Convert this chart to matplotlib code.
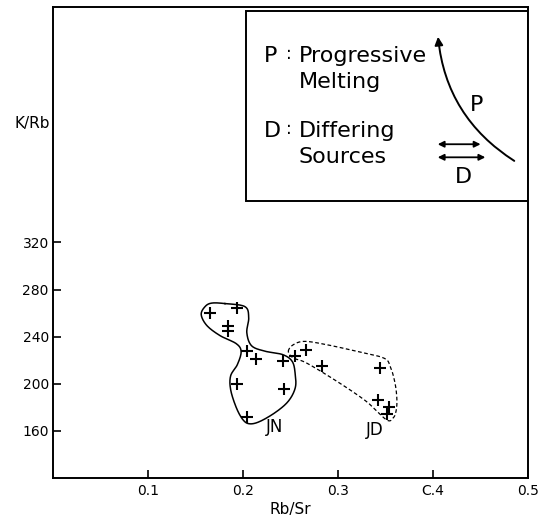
import numpy as np
import matplotlib
matplotlib.use("Agg")
import matplotlib.pyplot as plt
from matplotlib.patches import Rectangle

# samples (Rb/Sr, K/Rb)
jn_x = [0.165, 0.194, 0.1845, 0.1845, 0.204, 0.214, 0.2424, 0.194, 0.243, 0.204]
jn_y = [260, 264, 249, 244.5, 228, 221, 219.6, 199.7, 195.5, 172.2]
jd_x = [0.2547, 0.266, 0.283, 0.344, 0.342, 0.354, 0.352]
jd_y = [223.2, 229, 214.7, 213.4, 186.4, 180.2, 174.5]

# hand-drawn group outlines
jn_outline_x = [0.181, 0.202, 0.206, 0.204, 0.209, 0.223, 0.242, 0.252, 0.255, 0.255,
                0.248, 0.235, 0.218, 0.207, 0.200, 0.193, 0.187, 0.187, 0.194, 0.198,
                0.193, 0.176, 0.162, 0.156, 0.160, 0.167]
jn_outline_y = [268.1, 265.5, 256.2, 243.4, 232.3, 227.7, 224.7, 218.7, 207.7, 196.6,
                185.5, 176.2, 168.1, 166, 169.4, 179.6, 194.9, 206.8, 216.2, 227.2,
                234, 240.8, 249.4, 258.7, 265.5, 268.5]
jd_outline_x = [0.2477, 0.253, 0.265, 0.288, 0.320, 0.348, 0.355, 0.360, 0.362, 0.361,
                0.358, 0.351, 0.330, 0.299, 0.267, 0.253]
jd_outline_y = [227.5, 233.2, 236, 233.2, 227.5, 221.9, 214.7, 200.6, 186.4, 176.4,
                171, 169.4, 184.9, 202, 217.6, 221.9]

x_ticks = [0.1, 0.2, 0.3, 0.4, 0.5]
x_ticklabels = ["0.1", "0.2", "0.3", "C.4", "0.5"]
y_ticks = [160, 200, 240, 280, 320]


def smooth_closed(xs, ys, n=20):
    # closed Catmull-Rom through the outline vertices
    p = np.column_stack([xs, ys])
    m = len(p)
    out = []
    t = np.linspace(0, 1, n, endpoint=False)[:, None]
    for i in range(m):
        p0, p1, p2, p3 = p[i - 1], p[i], p[(i + 1) % m], p[(i + 2) % m]
        seg = 0.5 * ((2 * p1) + (-p0 + p2) * t + (2 * p0 - 5 * p1 + 4 * p2 - p3) * t ** 2
                     + (-p0 + 3 * p1 - 3 * p2 + p3) * t ** 3)
        out.append(seg)
    out = np.vstack(out + [p[:1]])
    return out[:, 0], out[:, 1]


fig = plt.figure(figsize=(5.41, 5.24), dpi=100)
ax = fig.add_axes([0.098, 0.0878, 0.878, 0.899])
ax.set_xlim(0, 0.5)
ax.set_ylim(120, 520)

for s in ax.spines.values():
    s.set_linewidth(1.4)

ax.set_xticks(x_ticks)
ax.set_xticklabels(x_ticklabels, fontsize=10)
ax.set_yticks(y_ticks)
ax.set_yticklabels([str(v) for v in y_ticks], fontsize=10)
ax.tick_params(direction="in", length=6, width=1.2, pad=4)
ax.tick_params(axis="y", pad=3)

# outlines
sx, sy = smooth_closed(jn_outline_x, jn_outline_y)
ax.plot(sx, sy, color="black", lw=1.1)
sx, sy = smooth_closed(jd_outline_x, jd_outline_y)
ax.plot(sx, sy, color="black", lw=0.9, ls=(0, (3, 2)))

ax.plot(jn_x, jn_y, "+", color="black", ms=9, mew=1.5)
ax.plot(jd_x, jd_y, "+", color="black", ms=9, mew=1.5)

ax.text(0.233, 163, "JN", fontsize=12, ha="center", va="center")
ax.text(0.339, 161, "JD", fontsize=12, ha="center", va="center")

# explanation box
ax.add_patch(Rectangle((0.2028, 355), 0.5 - 0.2028, 161.5, fill=False,
                       lw=1.4, color="black"))
for yy, lead, word in [(478.3, "P", "Progressive"), (456.2, None, "Melting"),
                       (414.4, "D", "Differing"), (392.3, None, "Sources")]:
    if lead:
        ax.text(0.222, yy, lead, fontsize=16, ha="left", va="center")
        ax.text(0.2485, yy + 2, ":", fontsize=12, ha="center", va="center")
    ax.text(0.2585, yy, word, fontsize=16, ha="left", va="center")

ax.annotate("", xy=(0.405, 497), xytext=(0.488, 388),
            arrowprops=dict(arrowstyle="-|>", color="black", lw=1.4,
                            mutation_scale=12,
                            connectionstyle="arc3,rad=-0.25"))
ax.text(0.446, 437, "P", fontsize=16, ha="center", va="center")
ax.annotate("", xy=(0.453, 403.4), xytext=(0.402, 403.4),
            arrowprops=dict(arrowstyle="<|-|>", color="black", lw=1.3, mutation_scale=9))
ax.annotate("", xy=(0.458, 392.3), xytext=(0.402, 392.3),
            arrowprops=dict(arrowstyle="<|-|>", color="black", lw=1.3, mutation_scale=9))
ax.text(0.432, 376, "D", fontsize=16, ha="center", va="center")

ax.set_xlabel("Rb/Sr", fontsize=11, labelpad=3)
ax.text(-0.003, 421, "K/Rb", fontsize=11, ha="right", va="center")

plt.savefig("out.png", dpi=100)
